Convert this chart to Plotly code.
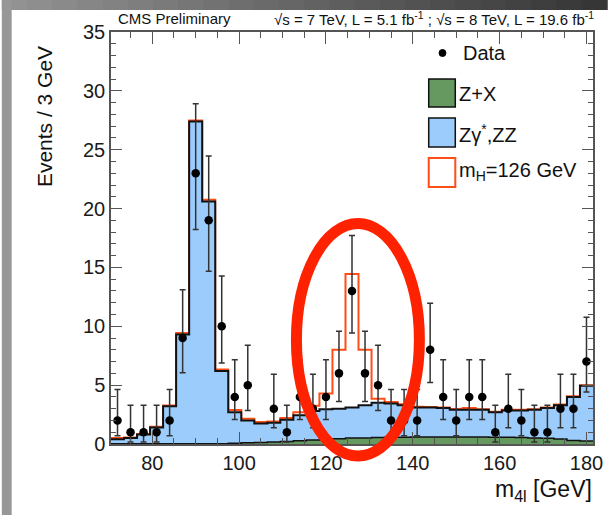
import plotly.graph_objects as go

# ---------------- data ----------------
bin_centers = [72, 75, 78, 81, 84, 87, 90, 93, 96, 99, 102, 105, 108, 111, 114, 117, 120, 123, 126,
               129, 132, 135, 138, 141, 144, 147, 150, 153, 156, 159, 162, 165, 168, 171, 174, 177, 180]
bin_width = 3

data_counts = [2, 1, 1, 1, 2, 9, 23, 19, 10, 4, 5, None, 3, 1, 4, 3, 4, 6, 13,
               6, 5, 2, 2, 2, 8, 4, 2, 4, 4, 1, 3, 2, 1, 1, 3, 3, 7]
data_err_up = [2.64, 2.30, 2.30, 2.30, 2.64, 4.11, 5.90, 5.47, 4.27, 3.16, 3.38, 0, 2.92, 2.30, 3.16, 2.92, 3.16, 3.58, 4.71,
               3.58, 3.38, 2.64, 2.64, 2.64, 3.95, 3.16, 2.64, 3.16, 3.16, 2.30, 2.92, 2.64, 2.30, 2.30, 2.92, 2.92, 3.77]
data_err_down = [1.29, 0.83, 0.83, 0.83, 1.29, 2.94, 4.77, 4.33, 3.11, 1.91, 2.16, 0, 1.63, 0.83, 1.91, 1.63, 1.91, 2.38, 3.57,
                 2.38, 2.16, 1.29, 1.29, 1.29, 2.77, 1.91, 1.29, 1.91, 1.91, 0.83, 1.63, 1.29, 0.83, 0.83, 1.63, 1.63, 2.58]

zx_values = [0.03, 0.03, 0.03, 0.03, 0.03, 0.03, 0.03, 0.03, 0.03, 0.06, 0.10, 0.13, 0.17, 0.22, 0.28, 0.33, 0.40, 0.45, 0.50,
             0.52, 0.55, 0.57, 0.58, 0.60, 0.60, 0.60, 0.60, 0.60, 0.60, 0.58, 0.57, 0.55, 0.52, 0.48, 0.42, 0.30, 0.25]
zz_values = [0.37, 0.47, 0.77, 1.37, 3.17, 9.27, 27.37, 20.57, 6.17, 2.64, 1.90, 1.62, 1.63, 1.83, 2.17, 2.47, 2.55, 2.55, 2.60,
             2.78, 2.95, 2.88, 2.72, 2.50, 2.50, 2.45, 2.30, 2.30, 2.30, 2.12, 2.28, 2.30, 2.38, 2.57, 2.88, 3.70, 4.70]
higgs_values = [0.12, 0.06, 0.06, 0.06, 0.08, 0.12, 0.08, 0.15, 0.12, 0.18, 0.15, 0.12, 0.12, 0.15, 0.25, 0.45, 1.35, 5.00, 11.35,
                4.70, 0.35, 0.12, 0.08, 0.06, 0.05, 0.05, 0.08, 0.15, 0.05, 0.05, 0.05, 0.05, 0.05, 0.05, 0.05, 0.05, 0.05]

x_range = [70.5, 181.5]
y_range = [0, 35]

# ---------------- style ----------------
FONT = "Liberation Sans, Arial, Helvetica, sans-serif"
BLUE = "#9cccfc"
GREEN = "#66995f"
HRED = "#ff4d17"
W, H = 615, 515
L, R, T, B = 111, 14, 32, 71
PW, PH = W - L - R, H - T - B


def px(xp):
    return (xp - L) / PW


def py(yp):
    return (H - B - yp) / PH


# stacked step histograms
edges = [c - bin_width / 2 for c in bin_centers] + [bin_centers[-1] + bin_width / 2]
zx_stack = list(zx_values)
bkg_stack = [a + b for a, b in zip(zx_values, zz_values)]
sig_stack = [a + b for a, b in zip(bkg_stack, higgs_values)]


def step(vals):
    return vals + [vals[-1]]


fig = go.Figure()
fig.add_trace(go.Scatter(x=edges, y=step(sig_stack), mode="lines", line=dict(color=HRED, width=2, shape="hv"),
                         hoverinfo="skip", showlegend=False))
fig.add_trace(go.Scatter(x=edges, y=step(bkg_stack), mode="lines", fill="tozeroy", fillcolor=BLUE,
                         line=dict(color="#111111", width=2, shape="hv"), hoverinfo="skip", showlegend=False))
fig.add_trace(go.Scatter(x=edges, y=step(zx_stack), mode="lines", fill="tozeroy", fillcolor=GREEN,
                         line=dict(color="#111111", width=1.5, shape="hv"), hoverinfo="skip", showlegend=False))
fig.add_trace(go.Scatter(x=bin_centers, y=data_counts, mode="markers",
                         marker=dict(color="black", size=8.5),
                         error_y=dict(type="data", symmetric=False, array=data_err_up, arrayminus=data_err_down,
                                      color="#333333", thickness=1.5, width=3),
                         showlegend=False))

axis_common = dict(showgrid=False, zeroline=False, showline=True, linecolor="#555555", linewidth=1.5,
                   mirror="allticks", ticks="inside", tickcolor="#555555", tickwidth=1.2,
                   tickfont=dict(family=FONT, size=20, color="#1a1a1a"))

fig.update_xaxes(range=x_range, tick0=0, dtick=20, ticklen=12,
                 minor=dict(dtick=5, tick0=0, ticklen=6, ticks="inside", tickcolor="#555555", tickwidth=1.2),
                 **axis_common)
fig.update_yaxes(range=y_range, tick0=0, dtick=5, ticklen=11,
                 minor=dict(dtick=1, tick0=0, ticklen=5, ticks="inside", tickcolor="#555555", tickwidth=1.2),
                 **axis_common)

shapes = []
# slide background bands (top gradient, left band)
n_seg = 24
for i in range(n_seg):
    t = i / (n_seg - 1)
    g = int(0x92 + (0x36 - 0x92) * t)
    col = "#%02x%02x%02x" % (g, g, g)
    x0 = W * i / n_seg
    x1 = W * (i + 1) / n_seg + 1
    shapes.append(dict(type="rect", xref="paper", yref="paper", x0=px(x0), x1=px(x1), y0=py(10), y1=py(0),
                       fillcolor=col, line=dict(width=0), layer="below"))
shapes.append(dict(type="rect", xref="paper", yref="paper", x0=px(0), x1=px(10), y0=py(H), y1=py(0),
                   fillcolor="#979797", line=dict(width=0), layer="below"))

# legend symbols
shapes.append(dict(type="circle", xref="paper", yref="paper", x0=px(444.5), x1=px(451.5), y0=py(56.5), y1=py(49.5),
                   fillcolor="black", line=dict(color="black", width=1)))
shapes.append(dict(type="rect", xref="paper", yref="paper", x0=px(434), x1=px(461), y0=py(107), y1=py(79),
                   fillcolor=GREEN, line=dict(color="#111111", width=1.5)))
shapes.append(dict(type="rect", xref="paper", yref="paper", x0=px(434), x1=px(461), y0=py(147), y1=py(118),
                   fillcolor=BLUE, line=dict(color="#111111", width=1.5)))
shapes.append(dict(type="rect", xref="paper", yref="paper", x0=px(434), x1=px(461), y0=py(187), y1=py(158),
                   fillcolor="white", line=dict(color=HRED, width=2)))

# highlight ellipse
shapes.append(dict(type="circle", xref="paper", yref="paper", x0=px(299.5), x1=px(424.5), y0=py(456), y1=py(223.5),
                   line=dict(color="#ff2200", width=11), fillcolor="rgba(0,0,0,0)", layer="above"))

ann = []
leg_font = dict(family=FONT, size=20, color="#111111")
ann.append(dict(text="Data", x=px(467), y=py(53), xref="paper", yref="paper", xanchor="left", yanchor="middle",
                showarrow=False, font=leg_font))
ann.append(dict(text="Z+X", x=px(463), y=py(94), xref="paper", yref="paper", xanchor="left", yanchor="middle",
                showarrow=False, font=leg_font))
ann.append(dict(text="Zγ<sup>*</sup>,ZZ", x=px(463), y=py(133), xref="paper", yref="paper", xanchor="left",
                yanchor="middle", showarrow=False, font=leg_font))
ann.append(dict(text="m<sub>H</sub>=126 GeV", x=px(463), y=py(172), xref="paper", yref="paper", xanchor="left",
                yanchor="middle", showarrow=False, font=leg_font))

# header
hdr_font = dict(family=FONT, size=15, color="#111111")
ann.append(dict(text="CMS Preliminary", x=px(116), y=py(19), xref="paper", yref="paper", xanchor="left",
                yanchor="middle", showarrow=False, font=hdr_font))
ann.append(dict(text="√s = 7 TeV, L = 5.1 fb<sup>-1</sup> ; √s = 8 TeV, L = 19.6 fb<sup>-1</sup>",
                x=px(604), y=py(19), xref="paper", yref="paper", xanchor="right", yanchor="middle",
                showarrow=False, font=hdr_font))

# axis titles
ann.append(dict(text="m<sub>4l</sub> [GeV]", x=px(602), y=py(490), xref="paper", yref="paper", xanchor="right",
                yanchor="middle", showarrow=False, font=dict(family=FONT, size=23, color="#111111")))
ann.append(dict(text="Events / 3 GeV", x=px(43), y=py(117), xref="paper", yref="paper", xanchor="center",
                yanchor="middle", textangle=-90, showarrow=False, font=dict(family=FONT, size=21, color="#111111")))

fig.update_layout(width=W, height=H, margin=dict(l=L, r=R, t=T, b=B), paper_bgcolor="white",
                  plot_bgcolor="white", shapes=shapes, annotations=ann, showlegend=False)

fig.write_html("out.html", config={"displayModeBar": False},
               post_script="document.body.style.margin='0';document.body.style.overflow='hidden';")
